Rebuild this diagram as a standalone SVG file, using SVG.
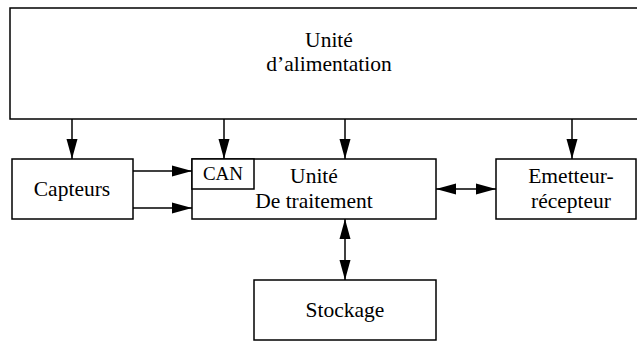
<svg xmlns="http://www.w3.org/2000/svg" width="637" height="342" viewBox="0 0 637 342">
<style>
.box{fill:#fff;stroke:#000;stroke-width:1.5}
text{font-family:'Liberation Serif','Times New Roman','DejaVu Serif',serif;font-size:21.5px;fill:#000;text-anchor:middle}
.s{font-size:19px}
.c{fill:none;stroke:#000;stroke-width:1.5}
</style>
<defs>
<marker id="ah" markerUnits="userSpaceOnUse" markerWidth="20" markerHeight="12" refX="20" refY="6" orient="auto-start-reverse">
<path d="M0,0.5 L20,6 L0,11.5 z" fill="#000"/>
</marker>
</defs>
<g id="alimentation">
<rect class="box" x="10" y="8" width="632" height="111"/>
<text x="329" y="47" font-family="Liberation Serif, serif">Unité</text>
<text x="329" y="71" font-family="Liberation Serif, serif">d’alimentation</text>
</g>
<g id="capteurs">
<rect class="box" x="12" y="159" width="121" height="60"/>
<text x="72" y="196" font-family="Liberation Serif, serif">Capteurs</text>
</g>
<g id="traitement">
<rect class="box" x="192" y="159" width="244" height="60"/>
<text x="314" y="183" font-family="Liberation Serif, serif">Unité</text>
<text x="314" y="208" font-family="Liberation Serif, serif">De traitement</text>
</g>
<g id="can">
<rect class="box" x="192" y="159" width="62" height="30"/>
<text class="s" x="223" y="180" font-family="Liberation Serif, serif">CAN</text>
</g>
<g id="emetteur">
<rect class="box" x="496" y="159" width="140" height="60"/>
<text x="571" y="183" font-family="Liberation Serif, serif">Emetteur-</text>
<text x="571" y="208" font-family="Liberation Serif, serif">récepteur</text>
</g>
<g id="stockage">
<rect class="box" x="254" y="280" width="182" height="60"/>
<text x="345" y="317" font-family="Liberation Serif, serif">Stockage</text>
</g>
<g id="connectors">
<line class="c" x1="72" y1="119" x2="72" y2="159" marker-end="url(#ah)"/>
<line class="c" x1="224" y1="119" x2="224" y2="159" marker-end="url(#ah)"/>
<line class="c" x1="345" y1="119" x2="345" y2="159" marker-end="url(#ah)"/>
<line class="c" x1="572" y1="119" x2="572" y2="159" marker-end="url(#ah)"/>
<line class="c" x1="133" y1="171" x2="192" y2="171" marker-end="url(#ah)"/>
<line class="c" x1="133" y1="208" x2="192" y2="208" marker-end="url(#ah)"/>
<line class="c" x1="436" y1="189" x2="496" y2="189" marker-start="url(#ah)" marker-end="url(#ah)"/>
<line class="c" x1="345" y1="219" x2="345" y2="280" marker-start="url(#ah)" marker-end="url(#ah)"/>
</g>
</svg>
